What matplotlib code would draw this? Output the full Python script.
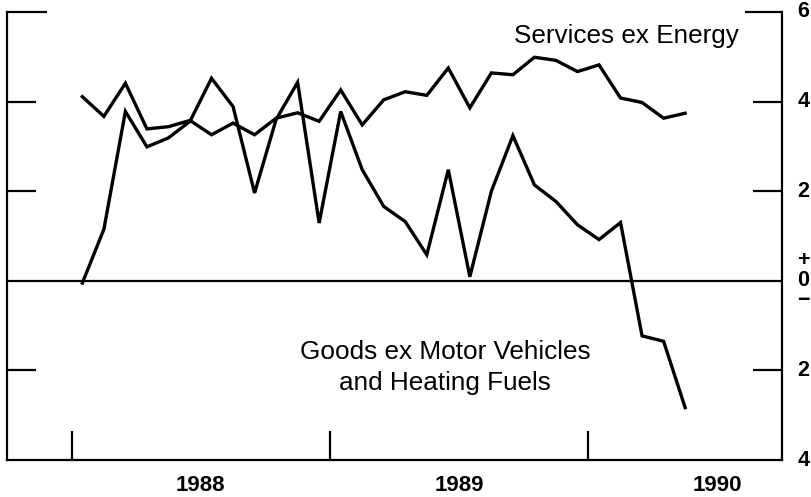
import matplotlib.pyplot as plt
import numpy as np

plt.rcParams['font.family'] = ['Liberation Sans', 'DejaVu Sans']

# monthly values, Jan 1988 - May 1990 (percent change, annual rate)
months = np.arange(29) + 0.5
services = [4.11, 3.67, 4.41, 3.39, 3.44, 3.58, 3.26, 3.52, 3.26, 3.63,
            3.75, 3.56, 4.26, 3.48, 4.04, 4.22, 4.14, 4.75, 3.86, 4.64,
            4.60, 4.99, 4.92, 4.67, 4.82, 4.08, 3.98, 3.63, 3.74]
goods = [-0.05, 1.15, 3.78, 2.99, 3.19, 3.56, 4.52, 3.89, 1.96, 3.60,
         4.43, 1.29, 3.78, 2.48, 1.66, 1.32, 0.58, 2.48, 0.09, 2.00,
         3.24, 2.14, 1.77, 1.25, 0.92, 1.30, -1.23, -1.35, -2.83]

year_ticks = [0, 12, 24]
year_pos = [6, 18, 30]
year_labels = ['1988', '1989', '1990']
y_ticks = [-2, 2, 4, 6]
y_label_pos = [-4, -2, 0, 2, 4, 6]
y_labels = ['4', '2', '+\n0\n\u2212', '2', '4', '6']

fig = plt.figure(figsize=(8.12, 4.97), dpi=100)
ax = fig.add_axes([7/812, 37/497, 775/812, 448/497])

ax.plot(months, services, color='black', lw=2.4, solid_joinstyle='miter')
ax.plot(months, goods, color='black', lw=2.4, solid_joinstyle='miter')
ax.axhline(0, color='black', lw=1.6)

ax.set_xlim(-3, 33)
ax.set_ylim(-4, 6)

ax.spines['top'].set_visible(False)
for s in ['left', 'right', 'bottom']:
    ax.spines[s].set_linewidth(1.6)

ax.xaxis.remove_overlapping_locs = False
ax.yaxis.remove_overlapping_locs = False

# x: year boundary ticks, labels centred in the year
ax.set_xticks(year_ticks)
ax.set_xticklabels([])
ax.set_xticks(year_pos, minor=True)
ax.set_xticklabels(year_labels, minor=True, fontsize=16, fontweight='bold')
ax.tick_params(axis='x', which='major', direction='in', length=21, width=1.6)
ax.tick_params(axis='x', which='minor', length=0, pad=11)

# y: inward ticks on both sides, labels on the right
ax.set_yticks(y_ticks)
ax.set_yticklabels([])
ax.set_yticks(y_label_pos, minor=True)
ax.set_yticklabels(y_labels, minor=True, fontsize=15.5, fontweight='bold')
ax.tick_params(axis='y', which='major', direction='in', length=21, width=1.6,
               left=True, right=True, labelleft=False, labelright=False)
ax.tick_params(axis='y', which='minor', length=0, left=False, right=True,
               labelleft=False, labelright=True, pad=11)
for lbl in ax.get_yticklabels(minor=True):
    lbl.set_linespacing(0.95)
    lbl.set_verticalalignment('center')
top = ax.yaxis.get_major_ticks()[-1]
top.tick1line.set_markersize(29)
top.tick2line.set_markersize(27)

ax.text(31.0, 5.47, 'Services ex Energy', ha='right', va='center', fontsize=18.8)
ax.text(17.35, -1.94, 'Goods ex Motor Vehicles\nand Heating Fuels',
        ha='center', va='center', fontsize=18.8, linespacing=1.35)

fig.savefig('out.png', dpi=100)
